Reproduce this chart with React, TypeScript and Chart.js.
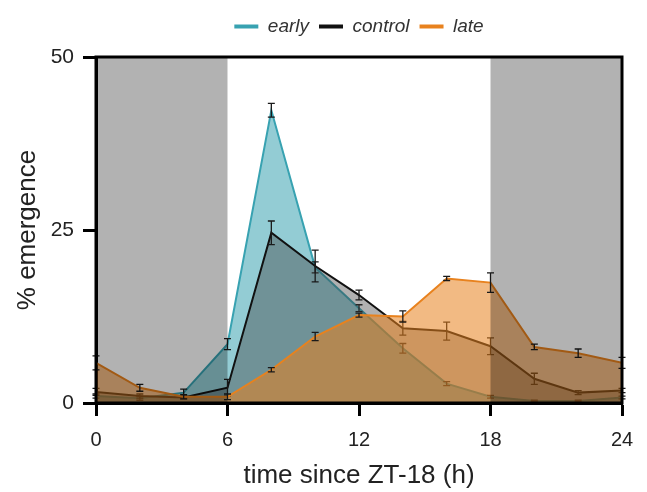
import { useEffect, useRef } from 'react';
import { Chart, registerables } from 'chart.js';

Chart.register(...registerables);

const hours = [0, 2, 4, 6, 8, 10, 12, 14, 16, 18, 20, 22, 24];
const earlyValues = [1.0, 0.7, 1.5, 8.5, 42.3, 19.6, 13.7, 7.9, 2.8, 0.9, 0.3, 0.3, 0.8];
const earlyErrors = [0.3, 0.3, 0.5, 0.8, 1.0, 0.8, 0.5, 0.7, 0.3, 0.2, 0.1, 0.1, 0.2];
const controlValues = [1.6, 1.0, 0.8, 2.2, 24.6, 19.8, 15.6, 10.8, 10.4, 8.2, 3.5, 1.5, 1.8];
const controlErrors = [0.5, 0.3, 0.2, 1.2, 1.7, 2.3, 0.7, 1.0, 1.3, 1.2, 0.8, 0.3, 0.3];
const lateValues = [5.8, 2.2, 0.9, 0.9, 4.8, 9.6, 12.7, 12.5, 18.0, 17.4, 8.1, 7.2, 5.8];
const lateErrors = [1.0, 0.5, 0.3, 0.4, 0.3, 0.6, 0.3, 0.8, 0.3, 1.4, 0.4, 0.6, 0.8];
const seriesNames = ['early', 'control', 'late'];
const darkPeriods = [[0, 6], [18, 24]];
const xTickStep = 6;
const yTickStep = 25;

const FONT = '"Liberation Sans", Arial, Helvetica, sans-serif';
const errorSets = [earlyErrors, controlErrors, lateErrors];

const toPoints = (vals: number[]) => hours.map((h, i) => ({ x: h, y: vals[i] }));

export default function App() {
  const ref = useRef<HTMLCanvasElement | null>(null);

  useEffect(() => {
    if (!ref.current) return;

    const legendFitPlugin = {
      id: 'legendFit',
      beforeLayout(chart: any) {
        const lg = chart.legend;
        if (lg && !lg._patched) {
          const orig = lg.fit;
          lg.fit = function () {
            orig.call(this);
            this.height = 50;
          };
          lg._patched = true;
        }
      },
    };

    const errorBarPlugin = {
      id: 'errorBars',
      afterDatasetDraw(chart: any, args: any) {
        const errs = errorSets[args.index];
        const ds = chart.data.datasets[args.index];
        if (!errs) return;
        const { ctx, chartArea } = chart;
        const ys = chart.scales.y;
        ctx.save();
        ctx.beginPath();
        ctx.rect(chartArea.left - 6, chartArea.top - 6, chartArea.right - chartArea.left + 12, chartArea.bottom - chartArea.top + 6);
        ctx.clip();
        ctx.strokeStyle = '#1a1a1a';
        ctx.lineWidth = 1.3;
        args.meta.data.forEach((pt: any, i: number) => {
          const v = ds.data[i].y;
          const e = errs[i];
          const top = ys.getPixelForValue(v + e);
          const bot = ys.getPixelForValue(Math.max(0, v - e));
          const x = pt.x;
          ctx.beginPath();
          ctx.moveTo(x, top);
          ctx.lineTo(x, bot);
          ctx.moveTo(x - 3.5, top);
          ctx.lineTo(x + 3.5, top);
          ctx.moveTo(x - 3.5, bot);
          ctx.lineTo(x + 3.5, bot);
          ctx.stroke();
        });
        ctx.restore();
      },
    };

    const shadePlugin = {
      id: 'shadeFrame',
      afterDatasetsDraw(chart: any) {
        const { ctx, chartArea } = chart;
        const xs = chart.scales.x;
        ctx.save();
        ctx.fillStyle = 'rgba(0,0,0,0.3)';
        darkPeriods.forEach(([a, b]) => {
          const x0 = xs.getPixelForValue(a);
          const x1 = xs.getPixelForValue(b);
          ctx.fillRect(x0, chartArea.top, x1 - x0, chartArea.bottom - chartArea.top);
        });
        ctx.strokeStyle = '#000';
        ctx.lineWidth = 3;
        ctx.strokeRect(chartArea.left, chartArea.top, chartArea.right - chartArea.left, chartArea.bottom - chartArea.top);
        ctx.restore();
      },
    };

    const chart = new Chart(ref.current, {
      type: 'line',
      data: {
        datasets: [
          {
            label: seriesNames[0],
            data: toPoints(earlyValues),
            borderColor: '#38a2b1',
            backgroundColor: 'rgba(58,163,177,0.55)',
            fill: 'origin',
            borderWidth: 2,
            pointRadius: 0,
            tension: 0,
            order: 3,
          },
          {
            label: seriesNames[1],
            data: toPoints(controlValues),
            borderColor: '#111111',
            backgroundColor: 'rgba(60,60,60,0.4)',
            fill: 'origin',
            borderWidth: 2,
            pointRadius: 0,
            tension: 0,
            order: 2,
          },
          {
            label: seriesNames[2],
            data: toPoints(lateValues),
            borderColor: '#e8821e',
            backgroundColor: 'rgba(232,130,30,0.55)',
            fill: 'origin',
            borderWidth: 2,
            pointRadius: 0,
            tension: 0,
            order: 1,
          },
        ],
      },
      options: {
        responsive: false,
        animation: false,
        layout: { padding: { top: 7, right: 25, left: 0, bottom: 0 } },
        plugins: {
          tooltip: { enabled: false },
          legend: {
            position: 'top',
            fullSize: false,
            labels: {
              boxWidth: 24,
              boxHeight: 4,
              padding: 10,
              color: '#333',
              font: { family: FONT, size: 19, style: 'italic' },
              sort: (a: any, b: any) => a.datasetIndex - b.datasetIndex,
              generateLabels: (chart: any) =>
                chart.data.datasets.map((ds: any, i: number) => ({
                  text: ds.label,
                  fillStyle: ds.borderColor,
                  strokeStyle: ds.borderColor,
                  lineWidth: 0,
                  hidden: false,
                  datasetIndex: i,
                  fontColor: '#333',
                })),
            },
          },
        },
        scales: {
          x: {
            type: 'linear',
            min: 0,
            max: 24,
            afterFit: (s: any) => {
              s.height = 89;
            },
            ticks: {
              stepSize: xTickStep,
              color: '#222',
              font: { family: FONT, size: 20 },
              padding: 12,
            },
            grid: {
              display: true,
              drawOnChartArea: false,
              drawTicks: true,
              tickLength: 13,
              tickWidth: 3,
              tickColor: '#000',
            },
            border: { display: true, color: '#000', width: 3 },
            title: {
              display: true,
              text: 'time since ZT-18 (h)',
              color: '#222',
              font: { family: FONT, size: 26 },
              padding: { top: 0, bottom: 1 },
            },
          },
          y: {
            type: 'linear',
            min: 0,
            max: 50,
            afterFit: (s: any) => {
              s.width = 96;
            },
            ticks: {
              stepSize: yTickStep,
              color: '#222',
              font: { family: FONT, size: 21 },
              padding: 9,
            },
            grid: {
              display: true,
              drawOnChartArea: false,
              drawTicks: true,
              tickLength: 13,
              tickWidth: 3,
              tickColor: '#000',
            },
            border: { display: true, color: '#000', width: 3 },
            title: {
              display: true,
              text: '% emergence',
              color: '#222',
              font: { family: FONT, size: 26 },
              padding: { top: 12, bottom: 0 },
            },
          },
        },
      },
      plugins: [legendFitPlugin, errorBarPlugin, shadePlugin],
    } as any);

    return () => chart.destroy();
  }, []);

  return (
    <div style={{ position: 'fixed', left: 0, top: 0, width: 647, height: 492, background: '#fff' }}>
      <canvas ref={ref} width={647} height={492} style={{ display: 'block', width: 647, height: 492 }} />
    </div>
  );
}
